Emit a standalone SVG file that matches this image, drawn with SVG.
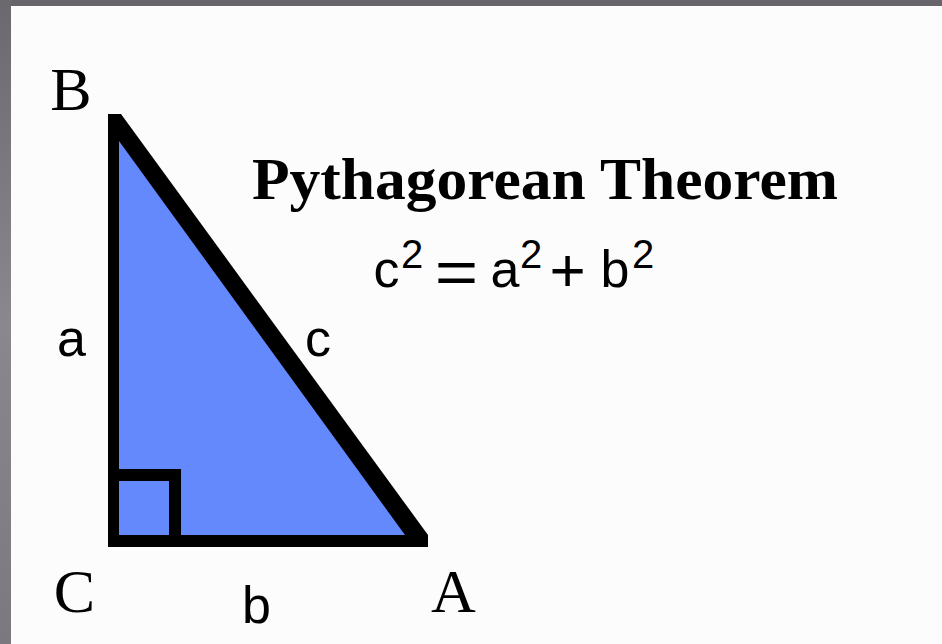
<svg xmlns="http://www.w3.org/2000/svg" width="942" height="644" viewBox="0 0 942 644">
  <defs>
    <linearGradient id="frameL" x1="0" y1="0" x2="0" y2="1">
      <stop offset="0" stop-color="#6c696e"/>
      <stop offset="0.5" stop-color="#8b888d"/>
      <stop offset="1" stop-color="#7c797e"/>
    </linearGradient>
    <style>
      .cap { font-family: "Liberation Serif", "Times New Roman", serif; font-size: 62px; fill: #000; text-anchor: middle; }
      .low { font-family: "Liberation Sans", Arial, sans-serif; font-size: 52px; fill: #000; text-anchor: middle; }
      .sup { font-family: "Liberation Sans", Arial, sans-serif; font-size: 40px; fill: #000; text-anchor: middle; }
      .op { font-family: "Liberation Sans", Arial, sans-serif; font-size: 62px; fill: #000; text-anchor: middle; }
      .title { font-family: "Liberation Serif", "Times New Roman", serif; font-size: 60px; font-weight: bold; fill: #000; }
      .ink { fill: #000; }
      .blue { fill: #6389fd; }
    </style>
  </defs>

  <rect x="0" y="0" width="942" height="644" fill="#fcfcfc"/>
  <rect x="0" y="0" width="942" height="6" fill="#67646a"/>
  <rect x="0" y="0" width="11" height="644" fill="url(#frameL)"/>

  <g id="triangle">
    <polygon class="ink" points="108,114 121,114 428,535 428,547 108,547"/>
    <polygon class="blue" points="119,141 405,535 119,535"/>
    <rect class="ink" x="119" y="469" width="62" height="12"/>
    <rect class="ink" x="169" y="469" width="12" height="66"/>
  </g>

  <g id="vertex-B"><text class="cap" x="71" y="110">B</text></g>
  <g id="vertex-C"><text class="cap" x="74.5" y="612">C</text></g>
  <g id="vertex-A"><text class="cap" x="453.5" y="612">A</text></g>

  <g id="side-a"><text class="low" x="71.5" y="356">a</text></g>
  <g id="side-b"><text class="low" x="256.5" y="623">b</text></g>
  <g id="side-c"><text class="low" x="318" y="356">c</text></g>

  <g id="title">
    <text class="title" x="252" y="199" textLength="586" lengthAdjust="spacingAndGlyphs">Pythagorean Theorem</text>
  </g>

  <g id="equation">
    <text class="low" x="386.5" y="287">c</text>
    <text class="sup" x="412" y="268">2</text>
    <text class="op" x="456.5" y="293" transform="translate(456.5 0) scale(1.2 1) translate(-456.5 0)">=</text>
    <text class="low" x="505" y="287">a</text>
    <text class="sup" x="531" y="268">2</text>
    <text class="op" x="567.5" y="291">+</text>
    <text class="low" x="615" y="287">b</text>
    <text class="sup" x="643" y="268">2</text>
  </g>
</svg>
